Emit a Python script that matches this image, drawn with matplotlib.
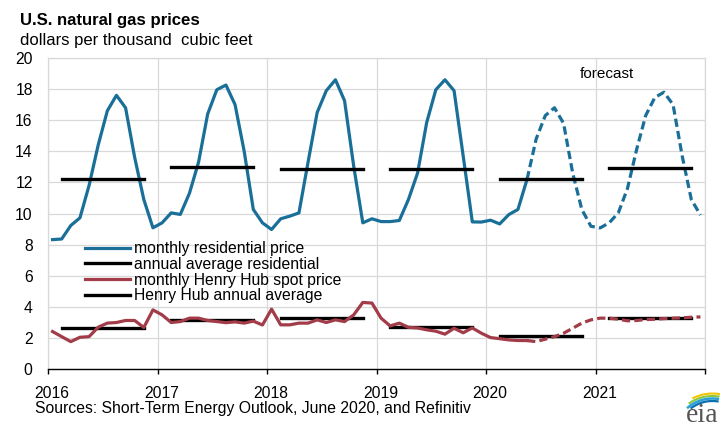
import matplotlib
matplotlib.use("Agg")
import matplotlib.pyplot as plt
import matplotlib.transforms as mtransforms
from matplotlib.patches import Arc
import numpy as np

plt.rcParams['font.family'] = ['Liberation Sans', 'DejaVu Sans']

# ---------------- data ----------------
years = [2016, 2017, 2018, 2019, 2020, 2021]
year_labels = ['2016', '2017', '2018', '2019', '2020', '2021', '']

residential = [
    8.32, 8.36, 9.23, 9.72, 11.8, 14.4, 16.6, 17.6, 16.8, 13.6, 10.9, 9.08,   # 2016
    9.40, 10.04, 9.94, 11.3, 13.3, 16.4, 17.96, 18.26, 17.0, 14.0, 10.26, 9.40,  # 2017
    8.97, 9.66, 9.83, 10.04, 13.3, 16.5, 17.9, 18.6, 17.25, 13.05, 9.40, 9.66,  # 2018
    9.48, 9.48, 9.55, 10.9, 12.6, 15.85, 17.96, 18.6, 17.9, 13.7, 9.46, 9.45,   # 2019
    9.57, 9.33, 9.93, 10.26, 12.2, 14.8, 16.3, 16.8, 15.8, 12.6, 10.26, 9.18,   # 2020
    9.07, 9.40, 10.04, 11.6, 14.1, 16.3, 17.46, 17.8, 17.0, 13.7, 10.9, 9.90,   # 2021
]
henry_hub = [
    2.41, 2.08, 1.76, 2.04, 2.08, 2.69, 2.95, 2.99, 3.12, 3.12, 2.67, 3.80,   # 2016
    3.48, 2.99, 3.05, 3.27, 3.27, 3.12, 3.05, 2.98, 3.03, 2.95, 3.08, 2.83,   # 2017
    3.85, 2.84, 2.84, 2.95, 2.95, 3.16, 2.99, 3.16, 3.05, 3.48, 4.28, 4.24,   # 2018
    3.27, 2.77, 2.95, 2.68, 2.64, 2.52, 2.43, 2.24, 2.62, 2.33, 2.64, 2.30,   # 2019
    2.02, 1.95, 1.87, 1.83, 1.83, 1.76, 1.92, 2.08, 2.30, 2.62, 2.95, 3.16,   # 2020
    3.27, 3.27, 3.20, 3.10, 3.12, 3.18, 3.20, 3.24, 3.27, 3.29, 3.33, 3.35,   # 2021
]
residential_annual = [12.24, 13.0, 12.84, 12.84, 12.24, 12.9]
henry_hub_annual = [2.62, 3.14, 3.30, 2.72, 2.15, 3.25]
last_actual = 52  # May 2020 (index); forecast after

# ---------------- figure ----------------
W, H = 721, 430
fig = plt.figure(figsize=(W / 100, H / 100), dpi=100)
ax = fig.add_axes([48 / W, 1 - 369 / H, (705 - 48) / W, (369 - 58) / H])

blue = '#1A6F98'
red = '#A13C48'

n = len(residential)
x = 2016 + (np.arange(n) + 0.5) / 12.0

lw = 2.3
# residential
ax.plot(x[:last_actual + 1], residential[:last_actual + 1], color=blue, lw=lw,
        zorder=3, label='monthly residential price')
ax.plot(x[last_actual:], residential[last_actual:], color=blue, lw=lw,
        ls=(0, (2.6, 1.3)), zorder=3)
# henry hub
ax.plot(x[:last_actual + 1], henry_hub[:last_actual + 1], color=red, lw=lw,
        zorder=3, label='monthly Henry Hub spot price')
ax.plot(x[last_actual:], henry_hub[last_actual:], color=red, lw=lw,
        ls=(0, (2.6, 1.3)), zorder=3)

# annual averages (Feb..Nov of each year)
for k, yr in enumerate(years):
    xs = [x[12 * k + 1], x[12 * k + 10]]
    ax.plot(xs, [residential_annual[k]] * 2, color='black', lw=2.4, zorder=4,
            label='annual average residential' if k == 0 else None)
    ax.plot(xs, [henry_hub_annual[k]] * 2, color='black', lw=2.4, zorder=2,
            label='Henry Hub annual average' if k == 0 else None)

ax.set_xlim(2016, 2022)
ax.set_ylim(0, 20)
ax.set_yticks(range(0, 21, 2))
ax.set_xticks(range(2016, 2023))
ax.set_xticklabels(year_labels)
ax.grid(True, color='#D9D9D9', lw=0.9, zorder=0)
ax.set_axisbelow(True)
for s in ['top', 'right', 'left']:
    ax.spines[s].set_color('#D9D9D9')
    ax.spines[s].set_linewidth(0.9)
ax.spines['bottom'].set_color('black')
ax.spines['bottom'].set_linewidth(1.0)
ax.spines['bottom'].set_zorder(5)
ax.tick_params(axis='y', length=0, pad=11, labelsize=11.3)
ax.tick_params(axis='x', length=3.5, width=1, direction='out', pad=9,
               labelsize=11.3, colors='black')
offset = mtransforms.ScaledTranslation(4 / 100, 0, fig.dpi_scale_trans)
for lab in ax.get_xticklabels():
    lab.set_transform(lab.get_transform() + offset)

# legend
handles, labels = ax.get_legend_handles_labels()
order = ['monthly residential price', 'annual average residential',
         'monthly Henry Hub spot price', 'Henry Hub annual average']
hmap = dict(zip(labels, handles))
leg = ax.legend([hmap[o] for o in order], order, loc='upper left',
                bbox_to_anchor=(85 / W, 1 - 241 / H), bbox_transform=fig.transFigure,
                frameon=False, fontsize=11.3, handlelength=2.85, handletextpad=0.3,
                labelspacing=0.05, borderpad=0, borderaxespad=0)

# texts
fig.text(20 / W, 1 - 21 / H, 'U.S. natural gas prices', fontsize=12.1,
         fontweight='bold', va='center', ha='left')
fig.text(20 / W, 1 - 40.5 / H, 'dollars per thousand  cubic feet', fontsize=12.0,
         va='center', ha='left')
fig.text(35 / W, 1 - 409 / H, 'Sources: Short-Term Energy Outlook, June 2020, and Refinitiv',
         fontsize=11.3, va='center', ha='left')
ax.text(2021.105, 19.0, 'forecast', fontsize=11.0, ha='center', va='center')

# eia logo
lax = fig.add_axes([676 / W, 0 / H, 45 / W, 40 / H])
lax.set_xlim(0, 45)
lax.set_ylim(0, 40)
lax.axis('off')
lax.text(26, 14, 'eia', fontsize=20, family=['Liberation Serif', 'DejaVu Serif'],
         color='#555555', ha='center', va='center')
c = (36.5, -6.5)
lax.add_patch(Arc(c, 86, 86, theta1=80, theta2=118, color='#F2C500', lw=1.5, clip_on=False))
lax.add_patch(Arc(c, 81, 81, theta1=80, theta2=126, color='#8DC63F', lw=1.5, clip_on=False))
lax.add_patch(Arc(c, 76, 76, theta1=80, theta2=132, color='#2AA0D8', lw=1.8, clip_on=False))
lax.add_patch(Arc(c, 71, 71, theta1=80, theta2=128, color='#0C6FB0', lw=1.6, clip_on=False))

fig.savefig('out.png', dpi=100)
